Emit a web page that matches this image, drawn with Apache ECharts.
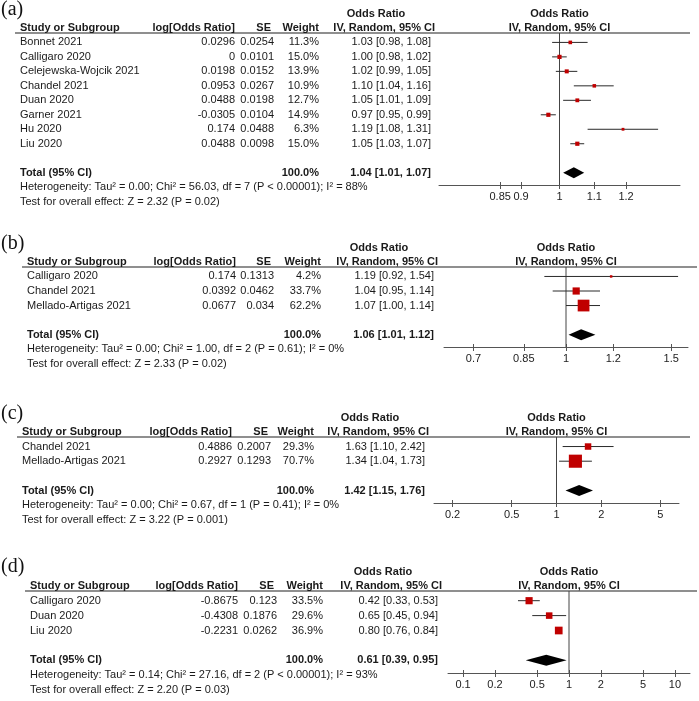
<!DOCTYPE html>
<html><head><meta charset="utf-8">
<script src="https://cdn.jsdelivr.net/npm/echarts@6/dist/echarts.min.js"></script>
<style>html,body{margin:0;padding:0;background:#fff}#c{width:699px;height:701px}</style>
</head><body><div id="c"></div>
<script>
// ---------- Panel (a) ----------
const studiesA = ['Bonnet 2021','Calligaro 2020','Celejewska-Wojcik 2021','Chandel 2021','Duan 2020','Garner 2021','Hu 2020','Liu 2020'];
const logOrA = [0.0296, 0, 0.0198, 0.0953, 0.0488, -0.0305, 0.174, 0.0488];
const seA = [0.0254, 0.0101, 0.0152, 0.0267, 0.0198, 0.0104, 0.0488, 0.0098];
const weightA = [11.3, 15.0, 13.9, 10.9, 12.7, 14.9, 6.3, 15.0];
const orA = [1.03, 1.00, 1.02, 1.10, 1.05, 0.97, 1.19, 1.05];
const loA = [0.98, 0.98, 0.99, 1.04, 1.01, 0.95, 1.08, 1.03];
const hiA = [1.08, 1.02, 1.05, 1.16, 1.09, 0.99, 1.31, 1.07];
const totalA = [1.04, 1.01, 1.07];
const hetA = 'Heterogeneity: Tau² = 0.00; Chi² = 56.03, df = 7 (P < 0.00001); I² = 88%';
const testA = 'Test for overall effect: Z = 2.32 (P = 0.02)';
const ticksA = [0.85, 0.9, 1, 1.1, 1.2];

// ---------- Panel (b) ----------
const studiesB = ['Calligaro 2020','Chandel 2021','Mellado-Artigas 2021'];
const logOrB = [0.174, 0.0392, 0.0677];
const seB = [0.1313, 0.0462, 0.034];
const weightB = [4.2, 33.7, 62.2];
const orB = [1.19, 1.04, 1.07];
const loB = [0.92, 0.95, 1.00];
const hiB = [1.54, 1.14, 1.14];
const totalB = [1.06, 1.01, 1.12];
const hetB = 'Heterogeneity: Tau² = 0.00; Chi² = 1.00, df = 2 (P = 0.61); I² = 0%';
const testB = 'Test for overall effect: Z = 2.33 (P = 0.02)';
const ticksB = [0.7, 0.85, 1, 1.2, 1.5];

// ---------- Panel (c) ----------
const studiesC = ['Chandel 2021','Mellado-Artigas 2021'];
const logOrC = [0.4886, 0.2927];
const seC = [0.2007, 0.1293];
const weightC = [29.3, 70.7];
const orC = [1.63, 1.34];
const loC = [1.10, 1.04];
const hiC = [2.42, 1.73];
const totalC = [1.42, 1.15, 1.76];
const hetC = 'Heterogeneity: Tau² = 0.00; Chi² = 0.67, df = 1 (P = 0.41); I² = 0%';
const testC = 'Test for overall effect: Z = 3.22 (P = 0.001)';
const ticksC = [0.2, 0.5, 1, 2, 5];

// ---------- Panel (d) ----------
const studiesD = ['Calligaro 2020','Duan 2020','Liu 2020'];
const logOrD = [-0.8675, -0.4308, -0.2231];
const seD = [0.123, 0.1876, 0.0262];
const weightD = [33.5, 29.6, 36.9];
const orD = [0.42, 0.65, 0.80];
const loD = [0.33, 0.45, 0.76];
const hiD = [0.53, 0.94, 0.84];
const totalD = [0.61, 0.39, 0.95];
const hetD = 'Heterogeneity: Tau² = 0.14; Chi² = 27.16, df = 2 (P < 0.00001); I² = 93%';
const testD = 'Test for overall effect: Z = 2.20 (P = 0.03)';
const ticksD = [0.1, 0.2, 0.5, 1, 2, 5, 10];

const panels = [
  {label:'(a)', studies:studiesA, logOr:logOrA, se:seA, weight:weightA, or:orA, lo:loA, hi:hiA, total:totalA, het:hetA, test:testA, ticks:ticksA,
   range:0.33, grid:{left:439, top:33, width:241, height:152}, cols:{study:20, log:235, se:274, w:319, or:431, lineL:15, lineR:690}},
  {label:'(b)', studies:studiesB, logOr:logOrB, se:seB, weight:weightB, or:orB, lo:loB, hi:hiB, total:totalB, het:hetB, test:testB, ticks:ticksB,
   range:0.47, grid:{left:444, top:267, width:244, height:80}, cols:{study:27, log:236, se:274, w:321, or:434, lineL:22, lineR:697}},
  {label:'(c)', studies:studiesC, logOr:logOrC, se:seC, weight:weightC, or:orC, lo:loC, hi:hiC, total:totalC, het:hetC, test:testC, ticks:ticksC,
   range:1.897, grid:{left:434, top:437, width:245, height:66}, cols:{study:22, log:232, se:271, w:314, or:425, lineL:17, lineR:690}},
  {label:'(d)', studies:studiesD, logOr:logOrD, se:seD, weight:weightD, or:orD, lo:loD, hi:hiD, total:totalD, het:hetD, test:testD, ticks:ticksD,
   range:2.63, grid:{left:448, top:591, width:242, height:82}, cols:{study:30, log:238, se:277, w:323, or:438, lineL:25, lineR:697}}
];

const FONT = 'Liberation Sans';
const TXT = '#1a1a1a';
const Y_MIN = -0.65, Y_PAD = 0.85;

const grids = [], xAxes = [], yAxes = [], series = [];
const fmtCI = (o, l, h) => o.toFixed(2) + ' [' + l.toFixed(2) + ', ' + h.toFixed(2) + ']';

panels.forEach((P, p) => {
  const n = P.studies.length;
  const N = n + 1; // total row index
  const yMax = N + Y_PAD;
  const lnTicks = P.ticks.map(t => Math.log(t));
  grids.push({left:P.grid.left, top:P.grid.top, width:P.grid.width, height:P.grid.height, containLabel:false});
  const fmt = v => { const i = lnTicks.findIndex(t => Math.abs(t - v) < 1e-6); return i >= 0 ? String(P.ticks[i]) : ''; };
  xAxes.push({gridIndex:p, type:'value', min:-P.range, max:P.range, position:'bottom',
    axisLine:{show:true, onZero:false, lineStyle:{color:'#555', width:1}},
    axisTick:{show:true, customValues:lnTicks, length:4, lineStyle:{color:'#555', width:1}},
    axisLabel:{show:true, customValues:lnTicks, formatter:fmt, fontSize:11, color:'#222', fontFamily:FONT, margin:6},
    splitLine:{show:false}});
  xAxes.push({gridIndex:p, type:'value', min:-P.range, max:P.range, position:'bottom',
    axisLine:{show:false, onZero:false},
    axisTick:{show:true, inside:true, customValues:lnTicks, length:3, lineStyle:{color:'#555', width:1}},
    axisLabel:{show:false}, splitLine:{show:false}});
  yAxes.push({gridIndex:p, type:'value', min:Y_MIN, max:yMax, inverse:true, show:false});

  const C = P.cols;
  const items = [];
  items.push({kind:'label', y:-2.25});
  items.push({kind:'hdr1', y:-1.95});
  items.push({kind:'hdr2', y:-0.97});
  for (let i = 0; i < n; i++) items.push({kind:'row', i, y:i});
  items.push({kind:'total', y:N});
  items.push({kind:'het', y:N + 1});
  items.push({kind:'test', y:N + 2});

  const T = (x, y, text, align, bold) => ({type:'text', x, y, silent:true,
    style:{text, fill:TXT, fontSize:11, fontFamily:FONT, fontWeight: bold ? 'bold' : 'normal', align, verticalAlign:'middle'}});

  series.push({type:'custom', coordinateSystem:'cartesian2d', xAxisIndex:2*p, yAxisIndex:p, silent:true,
    data: items.map(it => [0, it.y]),
    renderItem: (params, api) => {
      const it = items[params.dataIndex];
      const y = api.coord([0, api.value(1)])[1];
      const x1 = api.coord([0, 0])[0];
      const ch = [];
      if (it.kind === 'label') {
        ch.push({type:'text', x:1, y, silent:true, style:{text:P.label, fill:'#111', fontSize:20, fontFamily:'Liberation Serif', align:'left', verticalAlign:'middle'}});
      } else if (it.kind === 'hdr1') {
        ch.push(T(C.or - 55, y, 'Odds Ratio', 'center', true));
        ch.push(T(x1, y, 'Odds Ratio', 'center', true));
      } else if (it.kind === 'hdr2') {
        const yl = api.coord([0, Y_MIN])[1];
        ch.push({type:'line', silent:true, shape:{x1:C.lineL, y1:yl, x2:C.lineR, y2:yl}, style:{stroke:'#6a6a6a', lineWidth:1.5}});
        ch.push(T(C.study, y, 'Study or Subgroup', 'left', true));
        ch.push(T(C.log, y, 'log[Odds Ratio]', 'right', true));
        ch.push(T(C.se - 3, y, 'SE', 'right', true));
        ch.push(T(C.w, y, 'Weight', 'right', true));
        ch.push(T(C.or + 4, y, 'IV, Random, 95% CI', 'right', true));
        ch.push(T(x1, y, 'IV, Random, 95% CI', 'center', true));
      } else if (it.kind === 'row') {
        const i = it.i;
        ch.push(T(C.study, y, P.studies[i], 'left', false));
        ch.push(T(C.log, y, String(P.logOr[i]), 'right', false));
        ch.push(T(C.se, y, String(P.se[i]), 'right', false));
        ch.push(T(C.w, y, P.weight[i].toFixed(1) + '%', 'right', false));
        ch.push(T(C.or, y, fmtCI(P.or[i], P.lo[i], P.hi[i]), 'right', false));
      } else if (it.kind === 'total') {
        ch.push(T(C.study, y, 'Total (95% CI)', 'left', true));
        ch.push(T(C.w, y, '100.0%', 'right', true));
        ch.push(T(C.or, y, fmtCI(P.total[0], P.total[1], P.total[2]), 'right', true));
      } else if (it.kind === 'het') {
        ch.push(T(C.study, y, P.het, 'left', false));
      } else if (it.kind === 'test') {
        ch.push(T(C.study, y, P.test, 'left', false));
      }
      return {type:'group', children:ch};
    }});

  // reference line at OR = 1
  series.push({type:'custom', coordinateSystem:'cartesian2d', xAxisIndex:2*p, yAxisIndex:p, silent:true,
    data:[[0, Y_MIN, yMax]],
    renderItem:(params, api) => {
      const a = api.coord([api.value(0), api.value(1)]);
      const b = api.coord([api.value(0), api.value(2)]);
      return {type:'line', shape:{x1:a[0], y1:a[1], x2:b[0], y2:b[1]}, style:{stroke:'#444', lineWidth:1}};
    }});

  // study CIs and squares
  series.push({type:'custom', coordinateSystem:'cartesian2d', xAxisIndex:2*p, yAxisIndex:p, silent:true,
    data: P.studies.map((s, i) => [Math.log(P.or[i]), i, Math.log(P.lo[i]), Math.log(P.hi[i]), P.weight[i]]),
    renderItem:(params, api) => {
      const c = api.coord([api.value(0), api.value(1)]);
      const l = api.coord([api.value(2), api.value(1)]);
      const h = api.coord([api.value(3), api.value(1)]);
      const s = 0.16 * api.value(4) + 1.8;
      return {type:'group', children:[
        {type:'line', shape:{x1:l[0], y1:l[1], x2:h[0], y2:h[1]}, style:{stroke:'#2a2a2a', lineWidth:1}},
        {type:'rect', shape:{x:c[0] - s/2, y:c[1] - s/2, width:s, height:s}, style:{fill:'#c00000'}}
      ]};
    }});

  // total diamond
  series.push({type:'custom', coordinateSystem:'cartesian2d', xAxisIndex:2*p, yAxisIndex:p, silent:true,
    data:[[Math.log(P.total[0]), N, Math.log(P.total[1]), Math.log(P.total[2])]],
    renderItem:(params, api) => {
      const c = api.coord([api.value(0), api.value(1)]);
      const l = api.coord([api.value(2), api.value(1)]);
      const h = api.coord([api.value(3), api.value(1)]);
      const hh = 5.5;
      return {type:'polygon', shape:{points:[[l[0], l[1]], [c[0], c[1] - hh], [h[0], h[1]], [c[0], c[1] + hh]]}, style:{fill:'#000'}};
    }});
});

const chart = echarts.init(document.getElementById('c'), null, {renderer:'canvas'});
chart.setOption({animation:false, backgroundColor:'#fff', grid:grids, xAxis:xAxes, yAxis:yAxes, series});
</script></body></html>
